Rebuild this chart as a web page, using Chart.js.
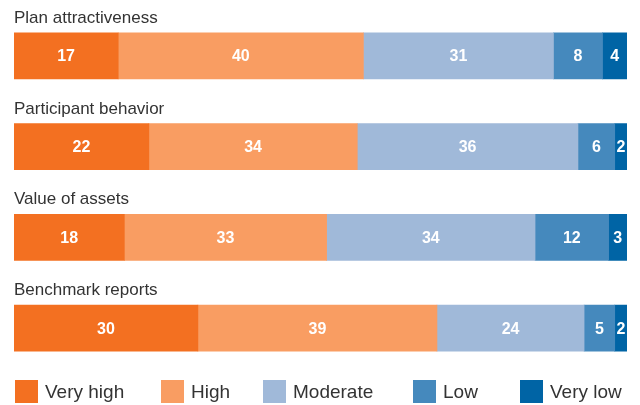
<!DOCTYPE html>
<html><head><meta charset="utf-8">
<script src="https://cdn.jsdelivr.net/npm/chart.js@4"></script>
<style>
html,body{margin:0;padding:0;background:#fff;}
#wrap{position:relative;width:640px;height:405px;}
#legend{position:absolute;left:0;top:380px;width:640px;height:24px;font-family:"Liberation Sans",Arial,sans-serif;font-size:19px;color:#333;}
#legend .it{position:absolute;top:0;display:flex;align-items:center;white-space:nowrap;}
#legend .bx{width:23px;height:23px;margin-right:7px;}
</style></head>
<body><div id="wrap"><canvas id="c" width="640" height="405"></canvas><div id="legend"></div></div>
<script>
const categories = ["Plan attractiveness","Participant behavior","Value of assets","Benchmark reports"];
const seriesNames = ["Very high","High","Moderate","Low","Very low"];
const veryHigh = [17,22,18,30];
const high = [40,34,33,39];
const moderate = [31,36,34,24];
const low = [8,6,12,5];
const veryLow = [4,2,3,2];
const colors = ["#F37021","#F99D62","#A0B9D9","#4589BD","#0064A5"];
const values = [veryHigh,high,moderate,low,veryLow];

const labelPlugin = {
  id:'labels',
  afterDatasetsDraw(chart){
    const ctx = chart.ctx;
    ctx.save();
    ctx.fillStyle = '#fff';
    ctx.font = 'bold 16px "Liberation Sans", Arial, sans-serif';
    ctx.textAlign = 'center';
    ctx.textBaseline = 'middle';
    chart.data.datasets.forEach((ds,i)=>{
      chart.getDatasetMeta(i).data.forEach((el,j)=>{
        const cx = (el.base + el.x)/2;
        ctx.fillText(String(ds.data[j]), cx, el.y+1);
      });
    });
    ctx.fillStyle = '#333';
    ctx.font = '17px "Liberation Sans", Arial, sans-serif';
    ctx.textAlign = 'left';
    ctx.textBaseline = 'alphabetic';
    const meta = chart.getDatasetMeta(0);
    meta.data.forEach((el,j)=>{
      const top = el.y - el.height/2;
      ctx.fillText(categories[j], chart.chartArea.left, top - 10);
    });
    ctx.restore();
  }
};

new Chart(document.getElementById('c'),{
  type:'bar',
  data:{
    labels:categories,
    datasets:seriesNames.map((n,i)=>({label:n,data:values[i],backgroundColor:colors[i],borderWidth:0,barThickness:46}))
  },
  options:{
    indexAxis:'y',
    responsive:false,
    animation:false,
    layout:{padding:{left:14,right:13,top:10.5,bottom:31.5}},
    scales:{
      x:{stacked:true,min:0,max:100,display:false},
      y:{stacked:true,display:false}
    },
    plugins:{legend:{display:false},tooltip:{enabled:false}}
  },
  plugins:[labelPlugin]
});

const legendLeft = [15,161,263,413,520];
const lg = document.getElementById('legend');
seriesNames.forEach((n,i)=>{
  const d=document.createElement('div');d.className='it';
  d.style.left = legendLeft[i]+'px';
  d.innerHTML='<span class="bx" style="background:'+colors[i]+'"></span><span>'+n+'</span>';
  lg.appendChild(d);
});
</script>
</body></html>
